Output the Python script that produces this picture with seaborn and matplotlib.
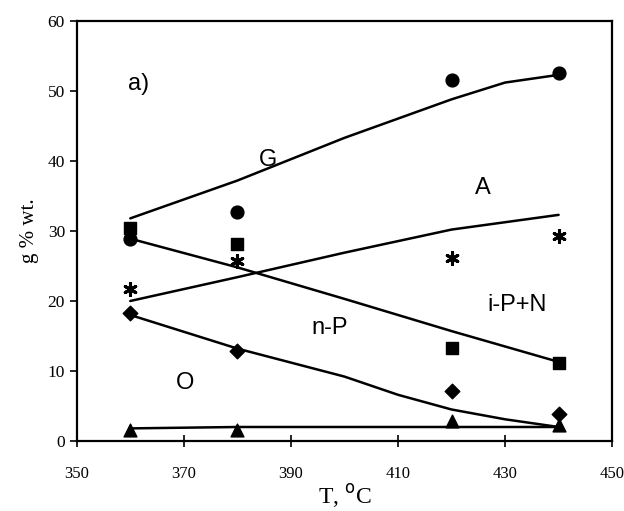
import matplotlib
matplotlib.use("Agg")
import matplotlib.pyplot as plt
import seaborn as sns

# --- measured points ---
temps = [360, 380, 420, 440]
g_pts = [28.8, 32.7, 51.6, 52.5]
ipn_pts = [30.4, 28.2, 13.3, 11.2]
a_pts = [21.7, 25.7, 26.2, 29.3]
np_pts = [18.3, 12.9, 7.2, 3.8]
o_pts = [1.6, 1.6, 2.8, 2.3]

# --- trend curves ---
g_curve_t = [360, 380, 400, 420, 430, 440]
g_curve = [31.8, 37.2, 43.3, 48.8, 51.2, 52.3]
ipn_curve_t = [360, 380, 400, 420, 440]
ipn_curve = [28.9, 24.8, 20.3, 15.7, 11.3]
a_curve_t = [360, 380, 400, 420, 440]
a_curve = [20.0, 23.4, 26.9, 30.2, 32.3]
np_curve_t = [360, 380, 400, 410, 420, 430, 440]
np_curve = [18.0, 13.2, 9.2, 6.6, 4.5, 3.1, 2.0]
o_curve_t = [360, 380, 400, 420, 440]
o_curve = [1.8, 2.0, 2.0, 2.0, 2.0]

sns.set_style("ticks")
plt.rcParams['font.family'] = ['Liberation Serif', 'DejaVu Serif']
plt.rcParams['text.color'] = 'black'
plt.rcParams['axes.labelcolor'] = 'black'
plt.rcParams['xtick.color'] = 'black'
plt.rcParams['ytick.color'] = 'black'
plt.rcParams['axes.edgecolor'] = 'black'

fig = plt.figure(figsize=(6.24, 5.11), dpi=100)
ax = fig.add_axes([0.123, 0.137, 0.858, 0.822])

curves = [(g_curve_t, g_curve), (ipn_curve_t, ipn_curve), (a_curve_t, a_curve),
          (np_curve_t, np_curve), (o_curve_t, o_curve)]
for t, v in curves:
    sns.lineplot(x=t, y=v, ax=ax, color="black", linewidth=1.8, sort=False)

points = [(g_pts, "o", 85, 1.0), (ipn_pts, "s", 75, 1.0), (a_pts, (6, 2, 0), 75, 2.2),
          (np_pts, "D", 55, 1.0), (o_pts, "^", 85, 1.0)]
for v, m, s, lw in points:
    sns.scatterplot(x=temps, y=v, ax=ax, marker=m, s=s, color="black",
                    edgecolor="black", linewidth=lw, zorder=3)

# series labels
lab = dict(fontsize=17, color="black", family=['Liberation Sans', 'DejaVu Sans'])
ax.text(359.5, 51, "a)", ha="left", va="center", **lab)
ax.text(385.7, 40.1, "G", ha="center", va="center", **lab)
ax.text(425.9, 36.1, "A", ha="center", va="center", **lab)
ax.text(432.2, 19.4, "i-P+N", ha="center", va="center", **lab)
ax.text(397.3, 16.1, "n-P", ha="center", va="center", **lab)
ax.text(370.2, 8.3, "O", ha="center", va="center", **lab)

ax.set_xlim(350, 450)
ax.set_ylim(0, 60)
ax.set_xticks(range(350, 451, 20))
ax.set_yticks(range(0, 61, 10))
ax.tick_params(axis="x", direction="inout", length=8, width=1.2, labelsize=12, pad=14)
ax.tick_params(axis="y", direction="out", length=5, width=1.2, labelsize=12.5)
for sp in ax.spines.values():
    sp.set_linewidth(1.6)
    sp.set_visible(True)

ax.set_xlabel("T, $^{\\mathrm{o}}$C", fontsize=17, labelpad=0)
ax.set_ylabel("g % wt.", fontsize=15, labelpad=6)

fig.savefig("out.png", dpi=100)
